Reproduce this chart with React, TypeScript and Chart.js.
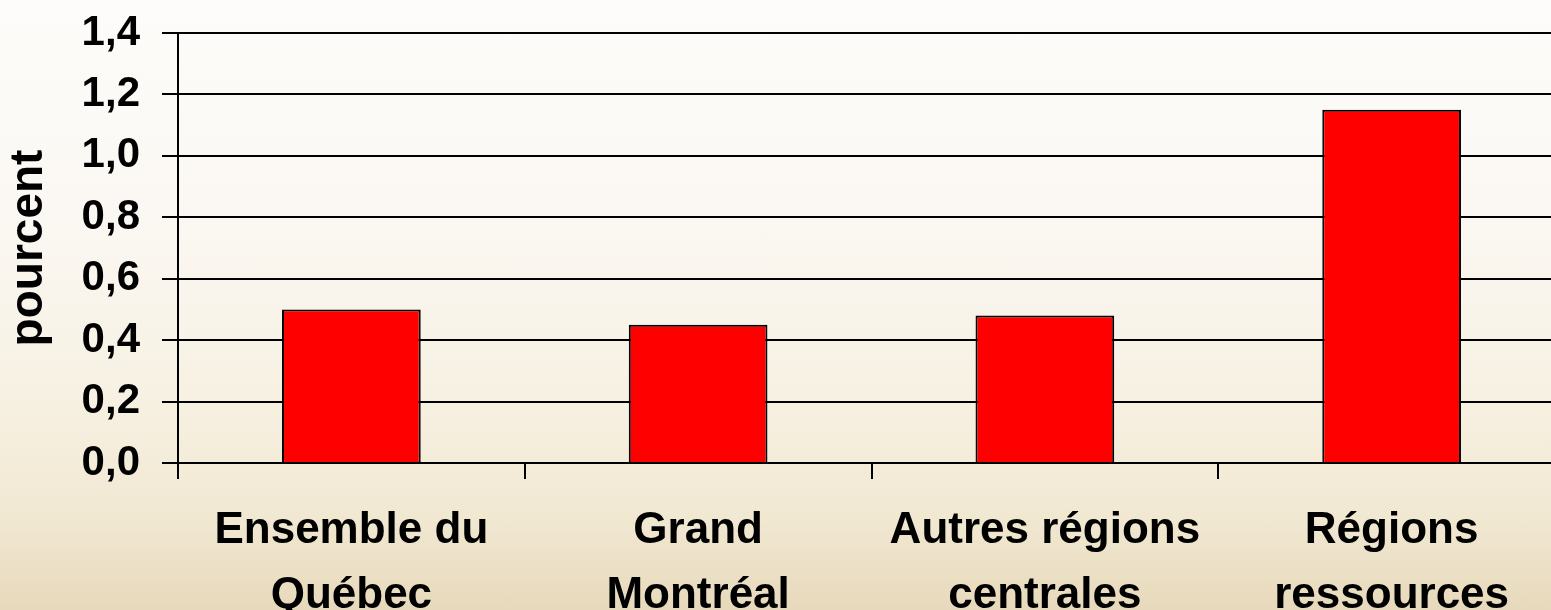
import React, { useEffect, useRef } from "react";
import { Chart, registerables } from "chart.js";

Chart.register(...registerables);

const categories: string[][] = [
  ["Ensemble du", "Québec"],
  ["Grand", "Montréal"],
  ["Autres régions", "centrales"],
  ["Régions", "ressources"],
];
const values: number[] = [0.5, 0.45, 0.48, 1.15];
const yAxisTitle = "pourcent";
const yMin = 0;
const yMax = 1.4;
const yStep = 0.2;

const FONT = "'Liberation Sans', Arial, Helvetica, sans-serif";

export default function App() {
  const ref = useRef<HTMLCanvasElement | null>(null);

  useEffect(() => {
    document.documentElement.style.overflow = "hidden";
    document.body.style.margin = "0";
    document.body.style.overflow = "hidden";
    const canvas = ref.current;
    if (!canvas) return;
    const chart = new Chart(canvas, {
      type: "bar",
      data: {
        labels: categories,
        datasets: [
          {
            data: values,
            backgroundColor: "#ff0000",
            borderColor: "#000000",
            borderWidth: 2,
            barPercentage: 0.4,
            categoryPercentage: 1,
          },
        ],
      },
      options: {
        animation: false,
        responsive: false,
        maintainAspectRatio: false,
        devicePixelRatio: 1,
        layout: { padding: { top: 33, right: 15, left: 0, bottom: 0 } },
        plugins: {
          legend: { display: false },
          tooltip: { enabled: false },
          title: { display: false },
        },
        scales: {
          x: {
            type: "category",
            offset: true,
            afterFit: (scale: any) => {
              scale.height = 147;
            },
            grid: {
              offset: true,
              drawOnChartArea: false,
              drawTicks: true,
              tickLength: 16,
              color: "#000000",
              lineWidth: 2,
            },
            border: { display: true, color: "#000000", width: 2 },
            ticks: {
              color: "#000000",
              padding: 20,
              maxRotation: 0,
              autoSkip: false,
              font: { family: FONT, size: 44, weight: "bold", lineHeight: 1.47 },
            },
          },
          y: {
            min: yMin,
            max: yMax,
            afterFit: (scale: any) => {
              scale.width = 178;
            },
            grid: {
              color: "#000000",
              lineWidth: 2,
              drawTicks: true,
              tickLength: 16,
            },
            border: { display: true, color: "#000000", width: 2 },
            title: {
              display: true,
              text: yAxisTitle,
              color: "#000000",
              padding: { top: 2, bottom: 0 },
              font: { family: FONT, size: 46, weight: "bold", lineHeight: 1.2 },
            },
            ticks: {
              stepSize: yStep,
              color: "#000000",
              padding: 22,
              font: { family: FONT, size: 42, weight: "bold", lineHeight: 0.5 },
              callback: (v: any) => Number(v).toFixed(1).replace(".", ","),
            },
          },
        },
      },
    });
    return () => chart.destroy();
  }, []);

  return (
    <div
      style={{
        position: "absolute",
        left: 0,
        top: 0,
        width: 1580,
        height: 610,
        background:
          "linear-gradient(180deg, #fdfcfa 0%, #fbf8f3 35%, #f7f1e3 65%, #f1e8d2 85%, #e7d9bb 100%)",
      }}
    >
      <canvas ref={ref} width={1580} height={610} style={{ display: "block", width: 1580, height: 610 }} />
    </div>
  );
}
